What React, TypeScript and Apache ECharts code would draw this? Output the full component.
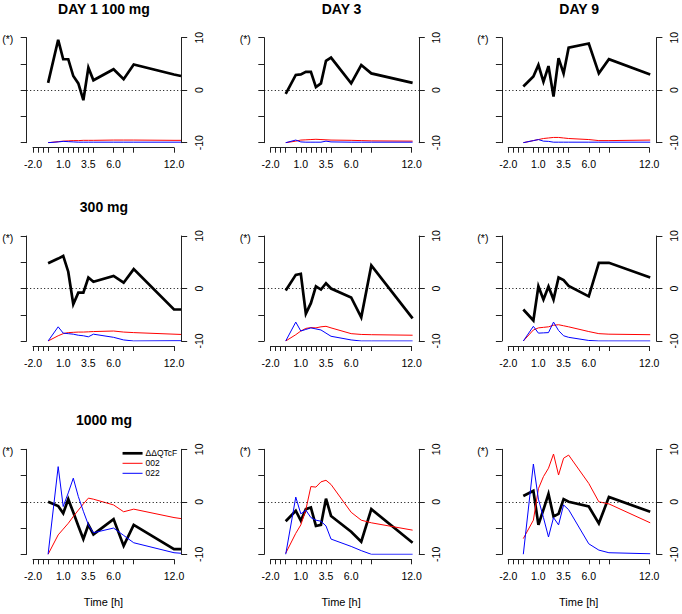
import React, { useEffect, useRef } from "react";
import * as echarts from "echarts";

// ---------------- data ----------------
// sampling times (h) per study day
const TIMES_DAY1 = [-0.5, 0.5, 1, 1.5, 2, 2.5, 3, 3.5, 4, 6, 7, 8, 12, 12.7];
const TIMES_DAY3 = [-0.5, 0.5, 1, 1.5, 2, 2.5, 3, 3.5, 4, 6, 7, 8, 12.1];
const TIMES_DAY9 = [-0.5, 0.5, 1, 1.5, 2, 2.5, 3, 3.5, 4, 6, 7, 8, 12.1];

const X_TICKS = [-2, -1.5, -1, -0.5, 0.5, 1, 1.5, 2, 2.5, 3, 3.5, 4, 6, 7, 8, 12];
const X_TICK_LABELS = [-2, 1, 3.5, 6, 12];

const COLUMN_TITLES = ["DAY 1 100 mg", "DAY 3", "DAY 9"];
const ROW_TITLES = ["", "300 mg", "1000 mg"];
const SERIES_NAMES = ["\u0394\u0394QTcF", "002", "022"];
const X_AXIS_NAME = "Time [h]";
const Y_MARK = "(*)";

// 100 mg
const QT_100_D1 = [1.4, 9.6, 5.9, 5.9, 2.7, 1.3, -1.9, 4.3, 1.9, 4.0, 2.1, 4.9, 3.0, 2.7];
const P002_100_D1 = [-10, -9.8, -9.7, -9.65, -9.6, -9.6, -9.55, -9.55, -9.55, -9.5, -9.5, -9.5, -9.55, -9.55];
const P022_100_D1 = [-10, -9.85, -9.75, -9.8, -9.85, -9.9, -9.9, -9.9, -9.9, -9.9, -9.9, -9.9, -9.9, -9.9];
const QT_100_D3 = [-0.7, 2.9, 3.0, 3.5, 3.5, 0.6, 1.3, 5.6, 6.2, 1.3, 4.8, 3.2, 1.4];
const P002_100_D3 = [-10, -9.7, -9.5, -9.45, -9.4, -9.35, -9.4, -9.45, -9.5, -9.55, -9.6, -9.65, -9.7];
const P022_100_D3 = [-10, -9.5, -9.85, -9.9, -9.9, -9.9, -9.9, -9.7, -9.85, -9.9, -9.9, -9.9, -9.9];
const QT_100_D9 = [0.7, 2.6, 4.8, 1.6, 4.6, -1.2, 6.1, 3.2, 8.1, 8.9, 3.2, 5.9, 3.0];
const P002_100_D9 = [-10, -9.6, -9.4, -9.2, -9.1, -9.0, -9.0, -9.1, -9.2, -9.4, -9.6, -9.6, -9.5];
const P022_100_D9 = [-10, -9.6, -9.4, -9.7, -9.75, -9.9, -9.9, -9.9, -9.9, -9.9, -9.9, -9.9, -9.9];

// 300 mg
const QT_300_D1 = [4.8, 5.7, 6.2, 3.2, -3.0, -0.8, -0.8, 2.1, 1.3, 2.4, 1.1, 3.7, -4.0, -4.0];
const P002_300_D1 = [-10, -9.0, -8.6, -8.4, -8.35, -8.3, -8.3, -8.25, -8.2, -8.1, -8.3, -8.4, -8.7, -8.75];
const P022_300_D1 = [-10, -7.3, -8.5, -8.6, -8.7, -8.9, -9.0, -9.2, -8.7, -9.3, -9.8, -10, -9.95, -9.95];
const QT_300_D3 = [-0.4, 2.6, 2.8, -4.8, -2.8, 0.4, -0.2, 1.0, 0.0, -1.7, -5.5, 4.4, -5.7];
const P002_300_D3 = [-10, -8.8, -8.1, -7.6, -7.45, -7.5, -7.3, -7.2, -7.5, -8.6, -8.75, -8.8, -8.9];
const P022_300_D3 = [-10, -6.4, -8.1, -7.8, -7.5, -7.7, -7.9, -8.5, -9.1, -9.8, -10, -10, -10];
const QT_300_D9 = [-4.0, -6.1, 0.4, -2.1, 0.4, -2.1, 2.1, 1.6, 0.5, -1.5, 4.9, 4.9, 2.1];
const P002_300_D9 = [-10, -7.9, -7.5, -7.4, -7.3, -7.0, -6.9, -7.1, -7.3, -8.2, -8.6, -8.7, -8.8];
const P022_300_D9 = [-10, -7.2, -8.5, -8.45, -8.4, -6.4, -8.0, -9.0, -9.3, -9.9, -10, -10, -10];

// 1000 mg
const QT_1000_D1 = [0.0, -0.8, -2.2, 0.5, -2.0, -4.6, -7.1, -4.4, -6.2, -3.3, -8.4, -4.4, -9.0, -9.0];
const P002_1000_D1 = [-10, -6.3, -5.2, -4.1, -2.8, -1.6, -0.4, 0.7, 0.5, -0.6, -1.9, -1.4, -3.0, -3.2];
const P022_1000_D1 = [-10, 6.7, -0.9, 1.7, 4.5, 1.0, -1.8, -4.4, -5.9, -5.0, -6.4, -7.8, -9.7, -9.8];
const QT_1000_D3 = [-3.7, -1.7, -3.6, -1.4, -1.1, -4.6, -4.4, 0.6, -2.7, -5.7, -7.6, -1.4, -7.8];
const P002_1000_D3 = [-9.8, -6.0, -4.4, -1.5, 2.9, 2.8, 3.8, 4.1, 3.3, -2.0, -3.5, -4.0, -5.4];
const P022_1000_D3 = [-10, 0.9, -2.3, -1.6, -3.0, -3.5, -3.7, -4.6, -7.1, -8.5, -9.3, -10, -10];
const QT_1000_D9 = [1.1, 2.1, -4.4, -1.5, 1.5, -2.8, -2.3, 0.5, 0.0, -0.9, -4.1, 0.9, -1.9];
const P002_1000_D9 = [-7.0, -3.5, 2.5, 4.8, 6.4, 9.1, 5.1, 8.3, 8.9, 3.5, 0.0, -0.4, -4.0];
const P022_1000_D9 = [-10, 7.2, 0.5, -3.0, -6.7, -3.0, -4.4, -0.6, -1.5, -8.0, -9.2, -9.7, -9.9];

const TIMES = [TIMES_DAY1, TIMES_DAY3, TIMES_DAY9];
const PANEL_DATA = [
  [
    [QT_100_D1, P002_100_D1, P022_100_D1],
    [QT_100_D3, P002_100_D3, P022_100_D3],
    [QT_100_D9, P002_100_D9, P022_100_D9],
  ],
  [
    [QT_300_D1, P002_300_D1, P022_300_D1],
    [QT_300_D3, P002_300_D3, P022_300_D3],
    [QT_300_D9, P002_300_D9, P022_300_D9],
  ],
  [
    [QT_1000_D1, P002_1000_D1, P022_1000_D1],
    [QT_1000_D3, P002_1000_D3, P022_1000_D3],
    [QT_1000_D9, P002_1000_D9, P022_1000_D9],
  ],
];

// ---------------- layout / style ----------------
const FONT = '"Liberation Sans", Arial, Helvetica, sans-serif';
const COL_LEFT = [26.7, 264.3, 501.9];
const ROW_TOP = [37.7, 236, 449.3];
const PLOT_W = 154.5;
const PLOT_H = 105;
const TICK_AREA_PAD = 6.3;
const TICK_AREA_W = 141;
const LINE_COLORS = ["#000000", "#ff0000", "#0000ff"];
const LINE_WIDTHS = [2.7, 1, 1];
const AXIS_COLOR = "#222";

function buildOption() {
  const grid: any[] = [];
  const xAxis: any[] = [];
  const yAxis: any[] = [];
  const series: any[] = [];
  const graphic: any[] = [];

  const first = X_TICK_LABELS[0];
  const last = X_TICK_LABELS[X_TICK_LABELS.length - 1];
  const pxPerUnit = TICK_AREA_W / (last - first);
  const xMin = first - TICK_AREA_PAD / pxPerUnit;
  const xMax = xMin + PLOT_W / pxPerUnit;

  const axisLineStyle = { color: AXIS_COLOR, width: 1 };

  for (let r = 0; r < 3; r++) {
    for (let c = 0; c < 3; c++) {
      const gA = grid.length;
      grid.push({ left: COL_LEFT[c], top: ROW_TOP[r], width: PLOT_W, height: PLOT_H, outerBoundsMode: "none", containLabel: false });
      const gB = grid.length;
      grid.push({ left: COL_LEFT[c] + TICK_AREA_PAD, top: ROW_TOP[r], width: TICK_AREA_W, height: PLOT_H, outerBoundsMode: "none", containLabel: false });

      const xA = xAxis.length;
      xAxis.push({ gridIndex: gA, type: "value", min: xMin, max: xMax, show: false });
      xAxis.push({
        gridIndex: gB,
        type: "value",
        min: first,
        max: last,
        position: "bottom",
        offset: 5,
        axisLine: { show: true, onZero: false, lineStyle: axisLineStyle },
        axisTick: { show: true, inside: false, length: 5, customValues: X_TICKS, lineStyle: axisLineStyle },
        axisLabel: {
          show: true,
          customValues: X_TICK_LABELS,
          formatter: (v: number) => v.toFixed(1),
          margin: 11,
          fontSize: 10.5,
          fontFamily: FONT,
          color: "#000",
        },
        splitLine: { show: false },
        name: r === 2 ? X_AXIS_NAME : "",
        nameLocation: "middle",
        nameGap: 37,
        nameTextStyle: { fontSize: 11, fontFamily: FONT, color: "#000" },
      });

      const yL = yAxis.length;
      yAxis.push({
        gridIndex: gA,
        type: "value",
        min: -10,
        max: 10,
        interval: 5,
        position: "left",
        axisLine: { show: true, onZero: false, lineStyle: axisLineStyle },
        axisTick: { show: true, length: 6, lineStyle: axisLineStyle },
        axisLabel: { show: false },
        splitLine: { show: false },
      });
      yAxis.push({
        gridIndex: gA,
        type: "value",
        min: -10,
        max: 10,
        interval: 10,
        position: "right",
        axisLine: { show: true, onZero: false, lineStyle: axisLineStyle },
        axisTick: { show: true, length: 6, lineStyle: axisLineStyle },
        axisLabel: { show: true, rotate: 90, margin: 12, fontSize: 10.5, fontFamily: FONT, color: "#000" },
        splitLine: { show: false },
      });
      yAxis.push({ gridIndex: gB, type: "value", min: -10, max: 10, show: false });

      const times = TIMES[c];
      const vals = PANEL_DATA[r][c];
      for (let s = 0; s < 3; s++) {
        const item: any = {
          type: "line",
          name: SERIES_NAMES[s],
          xAxisIndex: xA,
          yAxisIndex: yL,
          data: times.map((t, i) => [t, vals[s][i]]),
          symbol: "none",
          showSymbol: false,
          clip: true,
          silent: true,
          color: LINE_COLORS[s],
          lineStyle: { color: LINE_COLORS[s], width: LINE_WIDTHS[s], join: "miter" },
          z: 3 + s,
        };
        if (s === 0) {
          item.markLine = {
            silent: true,
            symbol: "none",
            label: { show: false },
            lineStyle: { color: "#000", width: 1, type: [1, 2.5] },
            data: [{ yAxis: 0 }],
          };
        }
        series.push(item);
      }

      // "(*)" mark
      graphic.push({
        type: "text",
        x: COL_LEFT[c] - 19,
        y: ROW_TOP[r] + 1.5,
        style: { text: Y_MARK, font: `10.5px ${FONT}`, fill: "#000", align: "center", verticalAlign: "middle", textAlign: "center", textVerticalAlign: "middle" },
      });
      // titles
      const title = r === 0 ? COLUMN_TITLES[c] : c === 0 ? ROW_TITLES[r] : "";
      if (title) {
        graphic.push({
          type: "text",
          x: COL_LEFT[c] + PLOT_W / 2,
          y: ROW_TOP[r] - 29,
          style: { text: title, font: `bold 14px ${FONT}`, fill: "#000", align: "center", verticalAlign: "middle", textAlign: "center", textVerticalAlign: "middle" },
        });
      }
    }
  }

  return {
    animation: false,
    backgroundColor: "#ffffff",
    textStyle: { fontFamily: FONT },
    grid,
    xAxis,
    yAxis,
    series,
    graphic,
    legend: {
      show: true,
      orient: "vertical",
      left: COL_LEFT[0] + 94.5,
      top: ROW_TOP[2] - 0.5,
      padding: 0,
      itemGap: 1,
      itemWidth: 20,
      itemHeight: 8,
      selectedMode: false,
      data: SERIES_NAMES,
      lineStyle: { width: "inherit" },
      itemStyle: { color: "transparent", borderColor: "transparent", borderWidth: 0, opacity: 0 },
      textStyle: { fontSize: 8.5, fontFamily: FONT, color: "#000", padding: [0, 0, 0, -2] },
    },
  };
}

export default function App() {
  const ref = useRef<HTMLDivElement>(null);
  useEffect(() => {
    if (!ref.current) return;
    const chart = echarts.init(ref.current, undefined, { renderer: "svg" });
    chart.setOption(buildOption() as any);
    return () => chart.dispose();
  }, []);
  return (
    <div
      ref={ref}
      style={{ position: "absolute", left: 0, top: 0, width: 682, height: 614, background: "#fff" }}
    />
  );
}
